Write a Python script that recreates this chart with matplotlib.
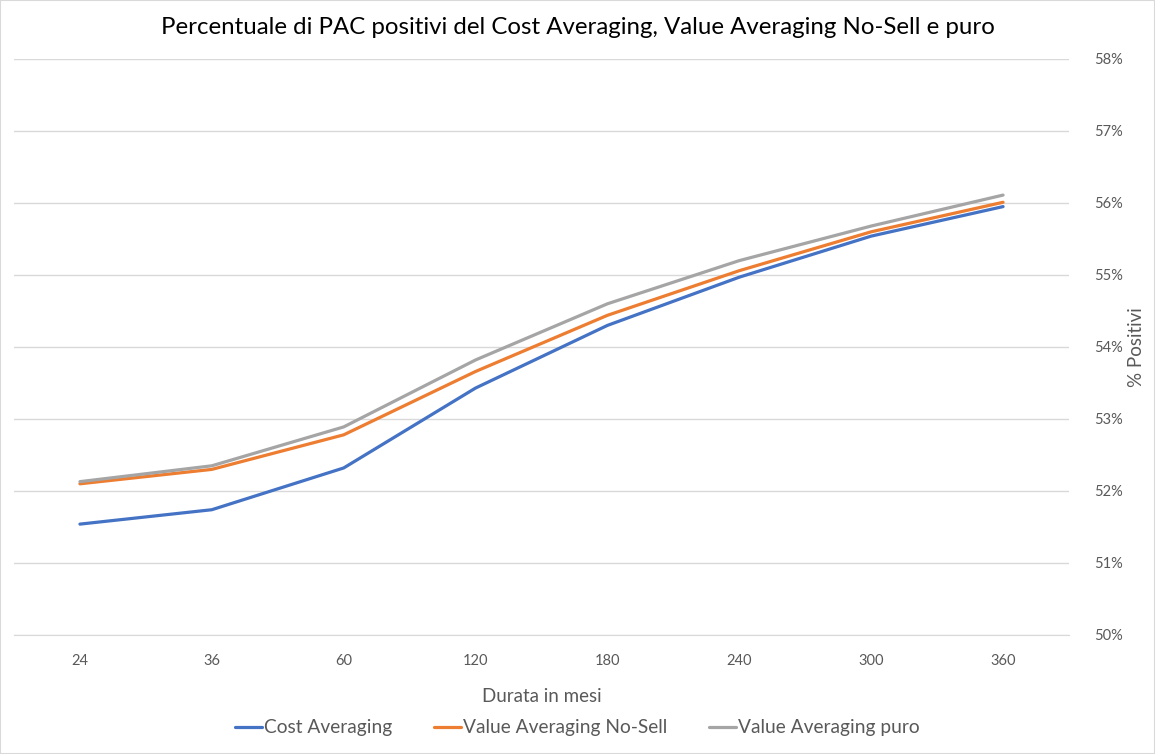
import matplotlib
matplotlib.use('Agg')
from matplotlib import pyplot as plt
from matplotlib.ticker import FuncFormatter

# dati
durata = ['24', '36', '60', '120', '180', '240', '300', '360']
cost_avg = [51.54, 51.74, 52.32, 53.43, 54.30, 54.97, 55.54, 55.95]
va_nosell = [52.10, 52.30, 52.78, 53.66, 54.44, 55.06, 55.60, 56.01]
va_puro = [52.13, 52.35, 52.89, 53.82, 54.60, 55.20, 55.68, 56.11]

plt.rcParams['font.family'] = ['Lato', 'DejaVu Sans']

fig = plt.figure(figsize=(11.55, 7.54), dpi=100)
ax = fig.add_axes([14 / 1155, 119 / 754, 1055 / 1155, 576 / 754])

x = range(len(durata))
ax.plot(x, cost_avg, color='#4472C4', lw=2.3, label='Cost Averaging', solid_capstyle='round')
ax.plot(x, va_nosell, color='#ED7D31', lw=2.3, label='Value Averaging No-Sell', solid_capstyle='round')
ax.plot(x, va_puro, color='#A5A5A5', lw=2.3, label='Value Averaging puro', solid_capstyle='round')

ax.set_xlim(-0.5, len(durata) - 0.5)
ax.set_ylim(50, 58)
ax.set_xticks(list(x))
ax.set_xticklabels(durata)
ax.set_yticks(range(50, 59))
ax.yaxis.set_major_formatter(FuncFormatter(lambda v, p: '%d%%' % v))
ax.yaxis.tick_right()
ax.yaxis.set_label_position('right')

ax.grid(axis='y', color='#D9D9D9', lw=1)
ax.set_axisbelow(True)
for s in ['top', 'left', 'right']:
    ax.spines[s].set_visible(False)
ax.spines['bottom'].set_color('#D9D9D9')
ax.tick_params(length=0, colors='#595959', labelsize=10.5)
ax.tick_params(axis='y', pad=18)
ax.tick_params(axis='x', pad=14)

ax.set_xlabel('Durata in mesi', fontsize=13.5, color='#595959', labelpad=14)
ax.set_ylabel('% Positivi', fontsize=13.5, color='#595959', labelpad=4)

fig.suptitle('Percentuale di PAC positivi del Cost Averaging, Value Averaging No-Sell e puro',
             fontsize=17.3, color='black', y=0.977)

fig.legend(loc='center', bbox_to_anchor=(0.5, 1 - 728 / 754), ncol=3, frameon=False,
           fontsize=13.8, labelcolor='#595959', handlelength=1.4, handletextpad=0.1,
           columnspacing=2.2)

# bordo del grafico
fig.patches.append(plt.Rectangle((0, 0), 1, 1, transform=fig.transFigure,
                                 fill=False, edgecolor='#D9D9D9', lw=1.5))

fig.savefig('out.png', dpi=100)
